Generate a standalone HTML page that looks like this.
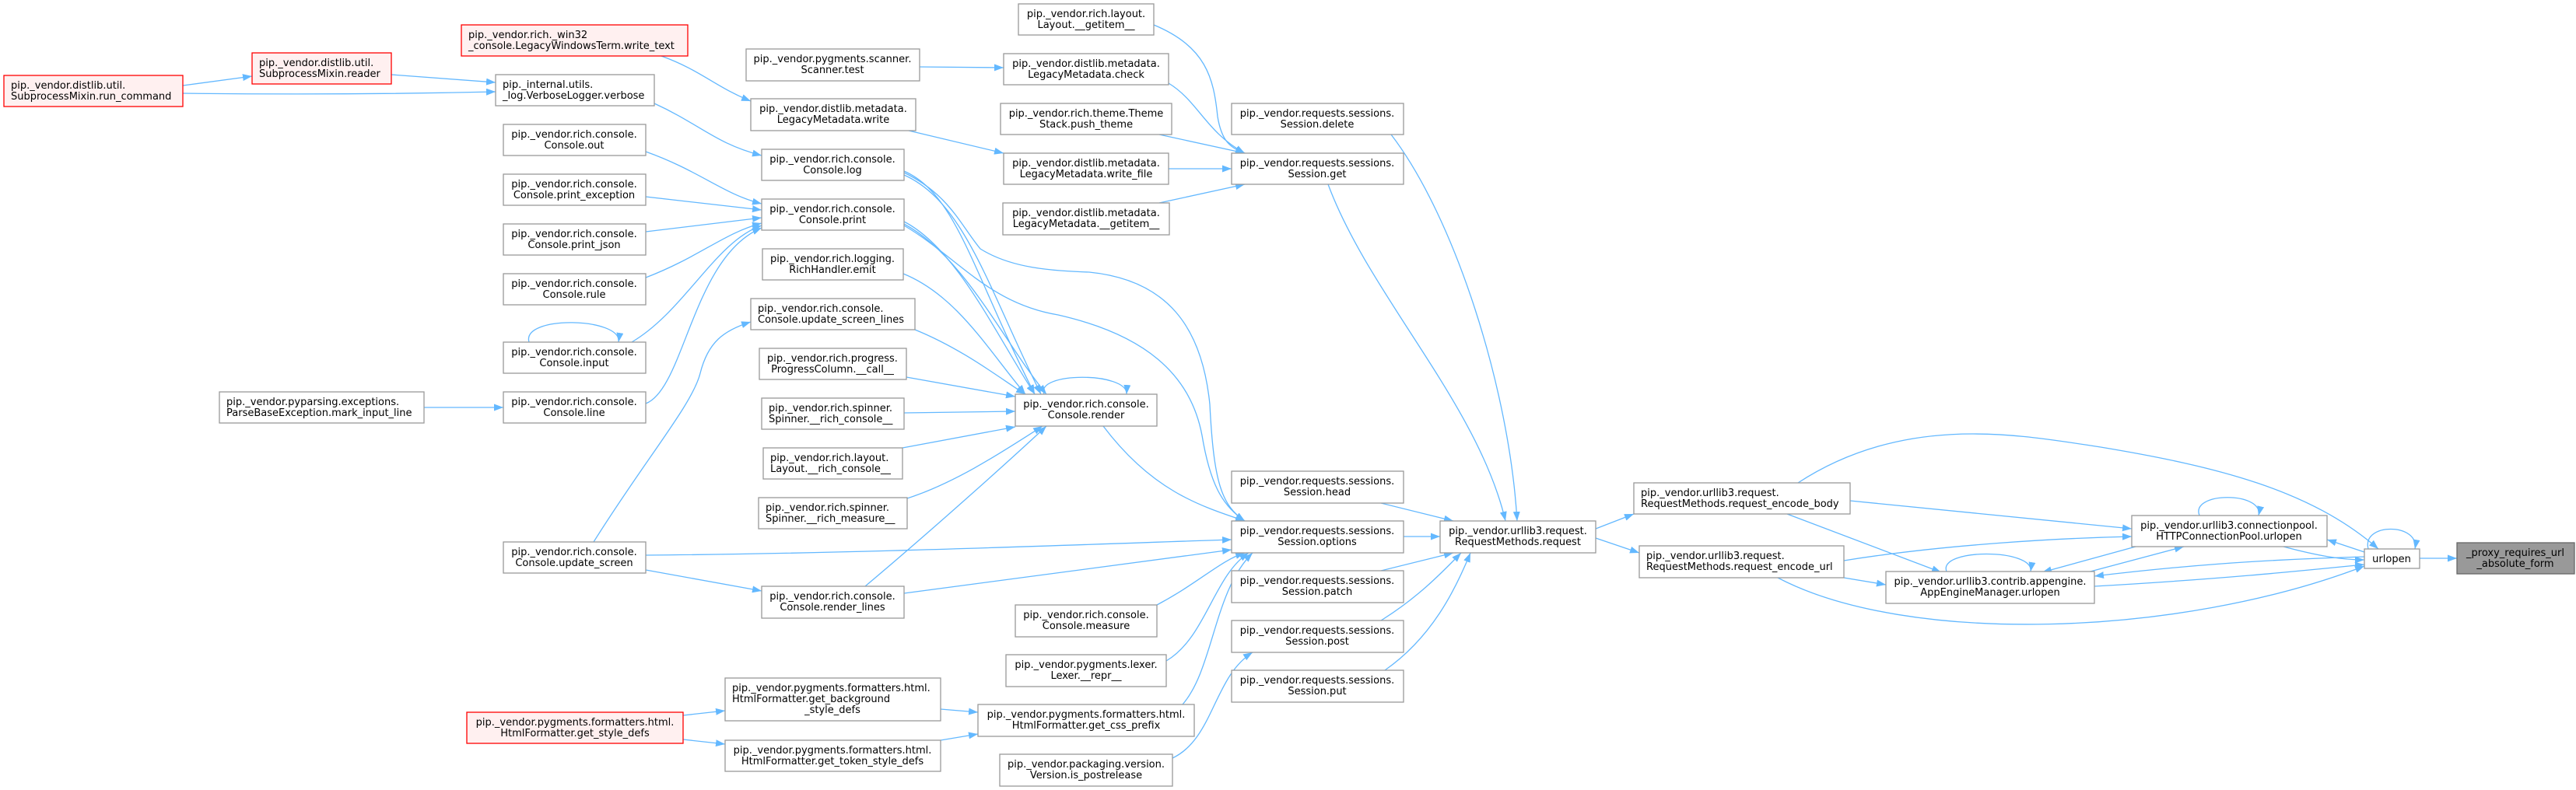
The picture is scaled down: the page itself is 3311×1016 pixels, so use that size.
<!DOCTYPE html>
<html><head><meta charset="utf-8"><style>
html,body{margin:0;padding:0;background:#fff}
svg{display:block}
text{font-family:"DejaVu Sans","Liberation Sans",sans-serif;font-size:13px;fill:#000}
.n{fill:#fff;stroke:#999;stroke-width:1.3}
.r{fill:#fff0f0;stroke:#f00;stroke-width:1.3}
.g{fill:#999;stroke:#666;stroke-width:1.3}
.e{fill:none;stroke:#63b8ff;stroke-width:1.3}
</style></head><body>
<svg width="3311" height="1016" viewBox="0 0 3311 1016" xmlns="http://www.w3.org/2000/svg">
<defs><marker id="a" markerUnits="userSpaceOnUse" markerWidth="12" markerHeight="9" refX="12" refY="4.5" orient="auto"><path d="M0,0L12,4.5L0,9z" fill="#63b8ff"/></marker></defs>
<g class="edges">
<path class="e" marker-end="url(#a)" d="M235,110 L324,98"/>
<path class="e" marker-end="url(#a)" d="M235,120 C400,122 550,120 637,118"/>
<path class="e" marker-end="url(#a)" d="M503,96 L637,106"/>
<path class="e" marker-end="url(#a)" d="M850,72 C900,90 920,112 965,130"/>
<path class="e" marker-end="url(#a)" d="M841,133 C900,160 920,185 979,200"/>
<path class="e" marker-end="url(#a)" d="M830,195 C900,220 930,250 979,262"/>
<path class="e" marker-end="url(#a)" d="M830,253 L979,270"/>
<path class="e" marker-end="url(#a)" d="M830,298 L979,280"/>
<path class="e" marker-end="url(#a)" d="M830,357 C900,330 930,300 979,287"/>
<path class="e" marker-end="url(#a)" d="M812,440 C880,400 920,310 979,290"/>
<path class="e" marker-end="url(#a)" d="M830,519 C880,500 890,330 979,293"/>
<path class="e" marker-end="url(#a)" d="M680,440 C670,405 800,408 795,440"/>
<path class="e" marker-end="url(#a)" d="M545,524 L647,524"/>
<path class="e" marker-end="url(#a)" d="M763,697 C830,590 890,520 900,480 C910,440 930,425 965,414"/>
<path class="e" marker-end="url(#a)" d="M830,714 C1100,712 1400,700 1583,694"/>
<path class="e" marker-end="url(#a)" d="M830,733 L979,760"/>
<path class="e" marker-end="url(#a)" d="M1182,86 L1290,87"/>
<path class="e" marker-end="url(#a)" d="M1168,168 L1290,197"/>
<path class="e" marker-end="url(#a)" d="M1483,32 C1550,60 1560,100 1565,150 C1570,180 1580,190 1600,197"/>
<path class="e" marker-end="url(#a)" d="M1502,107 C1540,130 1550,170 1600,197"/>
<path class="e" marker-end="url(#a)" d="M1490,173 L1600,197"/>
<path class="e" marker-end="url(#a)" d="M1502,217 L1583,217"/>
<path class="e" marker-end="url(#a)" d="M1490,261 L1600,237"/>
<path class="e" marker-end="url(#a)" d="M1162,220 C1230,250 1250,350 1330,507"/>
<path class="e" marker-end="url(#a)" d="M1162,225 C1240,260 1270,370 1338,507"/>
<path class="e" marker-end="url(#a)" d="M1162,222 C1220,250 1235,290 1260,320 C1300,345 1350,348 1400,350 C1500,360 1545,420 1555,520 C1560,620 1570,650 1600,670"/>
<path class="e" marker-end="url(#a)" d="M1162,285 C1230,320 1280,430 1330,507"/>
<path class="e" marker-end="url(#a)" d="M1162,288 C1240,330 1290,440 1345,507"/>
<path class="e" marker-end="url(#a)" d="M1162,290 C1230,330 1270,390 1360,405 C1470,430 1530,480 1545,560 C1555,620 1570,650 1600,670"/>
<path class="e" marker-end="url(#a)" d="M1161,352 C1230,380 1270,450 1318,507"/>
<path class="e" marker-end="url(#a)" d="M1176,424 C1240,450 1290,490 1318,507"/>
<path class="e" marker-end="url(#a)" d="M1165,485 L1305,510"/>
<path class="e" marker-end="url(#a)" d="M1162,531 L1305,529"/>
<path class="e" marker-end="url(#a)" d="M1160,576 L1305,549"/>
<path class="e" marker-end="url(#a)" d="M1166,641 C1230,620 1290,580 1340,548"/>
<path class="e" marker-end="url(#a)" d="M1112,754 C1200,680 1300,590 1345,548"/>
<path class="e" marker-end="url(#a)" d="M1342,507 C1330,478 1450,478 1448,507"/>
<path class="e" marker-end="url(#a)" d="M1418,548 C1480,630 1540,650 1600,670"/>
<path class="e" marker-end="url(#a)" d="M1162,763 L1583,707"/>
<path class="e" marker-end="url(#a)" d="M1487,778 C1540,750 1570,720 1600,711"/>
<path class="e" marker-end="url(#a)" d="M1499,850 C1550,820 1560,740 1605,711"/>
<path class="e" marker-end="url(#a)" d="M1520,906 C1560,860 1560,760 1610,711"/>
<path class="e" marker-end="url(#a)" d="M1507,975 C1560,950 1560,870 1610,839"/>
<path class="e" marker-end="url(#a)" d="M1209,912 L1257,916"/>
<path class="e" marker-end="url(#a)" d="M1209,952 L1257,944"/>
<path class="e" marker-end="url(#a)" d="M878,920 L932,914"/>
<path class="e" marker-end="url(#a)" d="M878,951 L932,957"/>
<path class="e" marker-end="url(#a)" d="M1707,237 C1760,380 1900,520 1935,670"/>
<path class="e" marker-end="url(#a)" d="M1788,173 C1870,280 1940,500 1950,670"/>
<path class="e" marker-end="url(#a)" d="M1775,647 L1868,670"/>
<path class="e" marker-end="url(#a)" d="M1804,690 L1851,690"/>
<path class="e" marker-end="url(#a)" d="M1775,734 L1868,711"/>
<path class="e" marker-end="url(#a)" d="M1775,798 C1820,770 1850,740 1878,711"/>
<path class="e" marker-end="url(#a)" d="M1780,862 C1840,820 1870,760 1890,711"/>
<path class="e" marker-end="url(#a)" d="M2051,680 L2100,661"/>
<path class="e" marker-end="url(#a)" d="M2051,692 L2107,711"/>
<path class="e" marker-end="url(#a)" d="M2378,644 L2740,680"/>
<path class="e" marker-end="url(#a)" d="M2297,661 L2495,736"/>
<path class="e" marker-end="url(#a)" d="M2311,621 C2450,530 2600,560 2700,575 C2850,600 2970,630 3057,706"/>
<path class="e" marker-end="url(#a)" d="M2370,721 C2500,700 2650,692 2740,690"/>
<path class="e" marker-end="url(#a)" d="M2370,743 L2424,752"/>
<path class="e" marker-end="url(#a)" d="M2285,743 C2450,830 2800,820 3039,728"/>
<path class="e" marker-end="url(#a)" d="M2745,703 L2625,736"/>
<path class="e" marker-end="url(#a)" d="M2683,736 L2807,703"/>
<path class="e" marker-end="url(#a)" d="M2827,663 C2815,632 2910,632 2903,663"/>
<path class="e" marker-end="url(#a)" d="M2502,735 C2490,705 2615,705 2610,735"/>
<path class="e" marker-end="url(#a)" d="M2935,703 C2980,715 3010,720 3039,720"/>
<path class="e" marker-end="url(#a)" d="M3039,710 L2991,694"/>
<path class="e" marker-end="url(#a)" d="M2692,754 C2850,745 2950,735 3039,726"/>
<path class="e" marker-end="url(#a)" d="M3039,716 C2900,720 2800,728 2692,741"/>
<path class="e" marker-end="url(#a)" d="M3044,706 C3035,672 3110,672 3104,706"/>
<path class="e" marker-end="url(#a)" d="M3110,718 L3158,718"/>
</g>
<g>
<rect class="r" x="5" y="97" width="230" height="40"/><text x="14" y="114">pip._vendor.distlib.util.</text><text x="14" y="128">SubprocessMixin.run_command</text>
<rect class="r" x="324" y="68" width="179" height="40"/><text x="333" y="85">pip._vendor.distlib.util.</text><text x="333" y="99">SubprocessMixin.reader</text>
<rect class="r" x="593" y="32" width="291" height="40"/><text x="602" y="49">pip._vendor.rich._win32</text><text x="602" y="63">_console.LegacyWindowsTerm.write_text</text>
<rect class="n" x="637" y="96" width="204" height="40"/><text x="646" y="113">pip._internal.utils.</text><text x="646" y="127">_log.VerboseLogger.verbose</text>
<g text-anchor="middle">
<rect class="n" x="647" y="160" width="183" height="40"/><text x="738" y="177">pip._vendor.rich.console.</text><text x="738" y="191">Console.out</text>
<rect class="n" x="647" y="224" width="183" height="40"/><text x="738" y="241">pip._vendor.rich.console.</text><text x="738" y="255">Console.print_exception</text>
<rect class="n" x="647" y="288" width="183" height="40"/><text x="738" y="305">pip._vendor.rich.console.</text><text x="738" y="319">Console.print_json</text>
<rect class="n" x="647" y="352" width="183" height="40"/><text x="738" y="369">pip._vendor.rich.console.</text><text x="738" y="383">Console.rule</text>
<rect class="n" x="647" y="440" width="183" height="40"/><text x="738" y="457">pip._vendor.rich.console.</text><text x="738" y="471">Console.input</text>
<rect class="n" x="647" y="504" width="183" height="40"/><text x="738" y="521">pip._vendor.rich.console.</text><text x="738" y="535">Console.line</text>
<rect class="n" x="647" y="697" width="183" height="40"/><text x="738" y="714">pip._vendor.rich.console.</text><text x="738" y="728">Console.update_screen</text>
<rect class="r" x="600" y="916" width="278" height="40"/><text x="739" y="933">pip._vendor.pygments.formatters.html.</text><text x="739" y="947">HtmlFormatter.get_style_defs</text>
<rect class="n" x="1309" y="5" width="174" height="40"/><text x="1396" y="22">pip._vendor.rich.layout.</text><text x="1396" y="36">Layout.__getitem__</text>
<rect class="n" x="959" y="63" width="223" height="41"/><text x="1070" y="80">pip._vendor.pygments.scanner.</text><text x="1070" y="94">Scanner.test</text>
<rect class="n" x="1290" y="69" width="212" height="40"/><text x="1396" y="86">pip._vendor.distlib.metadata.</text><text x="1396" y="100">LegacyMetadata.check</text>
<rect class="n" x="965" y="127" width="212" height="41"/><text x="1071" y="144">pip._vendor.distlib.metadata.</text><text x="1071" y="158">LegacyMetadata.write</text>
<rect class="n" x="1286" y="133" width="220" height="40"/><text x="1396" y="150">pip._vendor.rich.theme.Theme</text><text x="1396" y="164">Stack.push_theme</text>
<rect class="n" x="1583" y="133" width="221" height="40"/><text x="1693" y="150">pip._vendor.requests.sessions.</text><text x="1693" y="164">Session.delete</text>
<rect class="n" x="979" y="192" width="183" height="40"/><text x="1070" y="209">pip._vendor.rich.console.</text><text x="1070" y="223">Console.log</text>
<rect class="n" x="1290" y="197" width="212" height="40"/><text x="1396" y="214">pip._vendor.distlib.metadata.</text><text x="1396" y="228">LegacyMetadata.write_file</text>
<rect class="n" x="1583" y="197" width="221" height="40"/><text x="1693" y="214">pip._vendor.requests.sessions.</text><text x="1693" y="228">Session.get</text>
<rect class="n" x="979" y="256" width="183" height="40"/><text x="1070" y="273">pip._vendor.rich.console.</text><text x="1070" y="287">Console.print</text>
<rect class="n" x="1289" y="261" width="214" height="41"/><text x="1396" y="278">pip._vendor.distlib.metadata.</text><text x="1396" y="292">LegacyMetadata.__getitem__</text>
<rect class="n" x="980" y="320" width="181" height="40"/><text x="1070" y="337">pip._vendor.rich.logging.</text><text x="1070" y="351">RichHandler.emit</text>
<rect class="n" x="976" y="448" width="189" height="40"/><text x="1070" y="465">pip._vendor.rich.progress.</text><text x="1070" y="479">ProgressColumn.__call__</text>
<rect class="n" x="1305" y="507" width="182" height="41"/><text x="1396" y="524">pip._vendor.rich.console.</text><text x="1396" y="538">Console.render</text>
<rect class="n" x="1583" y="606" width="221" height="41"/><text x="1693" y="623">pip._vendor.requests.sessions.</text><text x="1693" y="637">Session.head</text>
<rect class="n" x="1583" y="670" width="221" height="41"/><text x="1693" y="687">pip._vendor.requests.sessions.</text><text x="1693" y="701">Session.options</text>
<rect class="n" x="1583" y="734" width="221" height="41"/><text x="1693" y="751">pip._vendor.requests.sessions.</text><text x="1693" y="765">Session.patch</text>
<rect class="n" x="1583" y="798" width="221" height="41"/><text x="1693" y="815">pip._vendor.requests.sessions.</text><text x="1693" y="829">Session.post</text>
<rect class="n" x="1583" y="862" width="221" height="41"/><text x="1693" y="879">pip._vendor.requests.sessions.</text><text x="1693" y="893">Session.put</text>
<rect class="n" x="979" y="754" width="183" height="41"/><text x="1070" y="771">pip._vendor.rich.console.</text><text x="1070" y="785">Console.render_lines</text>
<rect class="n" x="1305" y="778" width="182" height="41"/><text x="1396" y="795">pip._vendor.rich.console.</text><text x="1396" y="809">Console.measure</text>
<rect class="n" x="1293" y="842" width="206" height="41"/><text x="1396" y="859">pip._vendor.pygments.lexer.</text><text x="1396" y="873">Lexer.__repr__</text>
<rect class="n" x="1257" y="906" width="278" height="41"/><text x="1396" y="923">pip._vendor.pygments.formatters.html.</text><text x="1396" y="937">HtmlFormatter.get_css_prefix</text>
<rect class="n" x="932" y="952" width="277" height="40"/><text x="1070" y="969">pip._vendor.pygments.formatters.html.</text><text x="1070" y="983">HtmlFormatter.get_token_style_defs</text>
<rect class="n" x="1285" y="970" width="222" height="41"/><text x="1396" y="987">pip._vendor.packaging.version.</text><text x="1396" y="1001">Version.is_postrelease</text>
<rect class="n" x="1851" y="670" width="200" height="41"/><text x="1951" y="687">pip._vendor.urllib3.request.</text><text x="1951" y="701">RequestMethods.request</text>
<rect class="n" x="2740" y="663" width="251" height="40"/><text x="2865" y="680">pip._vendor.urllib3.connectionpool.</text><text x="2865" y="694">HTTPConnectionPool.urlopen</text>
<rect class="n" x="2424" y="735" width="268" height="41"/><text x="2558" y="752">pip._vendor.urllib3.contrib.appengine.</text><text x="2558" y="766">AppEngineManager.urlopen</text>
<rect class="n" x="3039" y="706" width="71" height="25"/><text x="3074" y="723">urlopen</text>
<rect class="g" x="3158" y="698" width="151" height="40"/><text x="3233" y="715">_proxy_requires_url</text><text x="3233" y="729">_absolute_form</text>
</g>
<rect class="n" x="282" y="504" width="263" height="40"/><text x="291" y="521">pip._vendor.pyparsing.exceptions.</text><text x="291" y="535">ParseBaseException.mark_input_line</text>
<rect class="n" x="965" y="384" width="211" height="40"/><text x="974" y="401">pip._vendor.rich.console.</text><text x="974" y="415">Console.update_screen_lines</text>
<rect class="n" x="979" y="512" width="183" height="40"/><text x="988" y="529">pip._vendor.rich.spinner.</text><text x="988" y="543">Spinner.__rich_console__</text>
<rect class="n" x="981" y="576" width="179" height="40"/><text x="990" y="593">pip._vendor.rich.layout.</text><text x="990" y="607">Layout.__rich_console__</text>
<rect class="n" x="975" y="640" width="191" height="40"/><text x="984" y="657">pip._vendor.rich.spinner.</text><text x="984" y="671">Spinner.__rich_measure__</text>
<rect class="n" x="932" y="872" width="277" height="55"/><text x="941" y="889">pip._vendor.pygments.formatters.html.</text><text x="941" y="903">HtmlFormatter.get_background</text><text x="1070" y="917" text-anchor="middle">_style_defs</text>
<rect class="n" x="2100" y="621" width="278" height="40"/><text x="2109" y="638">pip._vendor.urllib3.request.</text><text x="2109" y="652">RequestMethods.request_encode_body</text>
<rect class="n" x="2107" y="702" width="263" height="41"/><text x="2116" y="719">pip._vendor.urllib3.request.</text><text x="2116" y="733">RequestMethods.request_encode_url</text>
</g>
</svg>
</body></html>
